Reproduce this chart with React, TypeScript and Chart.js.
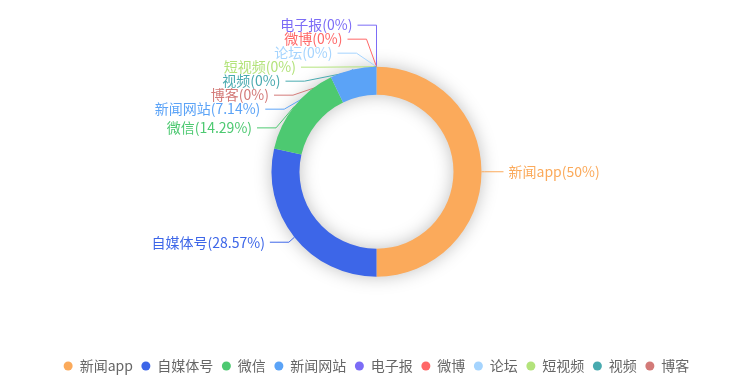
import React, { useEffect, useRef } from 'react';
import { Chart, registerables } from 'chart.js';

Chart.register(...registerables);

const categories = ['新闻app', '自媒体号', '微信', '新闻网站', '电子报', '微博', '论坛', '短视频', '视频', '博客'];
const counts = [7, 4, 2, 1, 0, 0, 0, 0, 0, 0];
const colors = ['#FBAA5B', '#3D66E8', '#4DC971', '#5BA3F7', '#7C6CF6', '#FF6767', '#A5D4FE', '#B3E37B', '#48AAAF', '#D37A78'];

const FONT = '"Noto Sans CJK SC", "Noto Sans", sans-serif';
const LINE_LEN1 = 8;
const LINE_LEN2 = 19;
const LABEL_DIST = 5;
const LABEL_H = 14;
const LABEL_FONT_SIZE = 14;
const OUTER_R = 105;
const INNER_R = 77;

type Item = {
  i: number; x: number; y: number; h: number; len: number; len2: number; dir: number;
  ax: number; ay: number; text: string;
};

function layoutSide(list: Item[], cx: number, cy: number, r: number, dir: number, viewTop: number, viewHeight: number) {
  list.sort((a, b) => a.y - b.y);
  const shiftUp = (end: number, delta: number) => {
    for (let j = end; j >= 0; j--) {
      if (list[j].y - delta < viewTop) break;
      list[j].y -= delta;
      if (j > 0 && list[j].y > list[j - 1].y + list[j - 1].h) break;
    }
  };
  const shiftDown = (start: number, end: number, delta: number) => {
    for (let j = start; j < end; j++) {
      if (list[j].y + delta > viewTop + viewHeight) break;
      list[j].y += delta;
      if (j > start && j + 1 < end && list[j + 1].y > list[j].y + list[j].h) {
        shiftUp(j, delta / 2);
        return;
      }
    }
    shiftUp(end - 1, delta / 2);
  };
  let lastY = 0;
  for (let i = 0; i < list.length; i++) {
    const d = list[i].y - lastY;
    if (d < 0) shiftDown(i, list.length, -d);
    lastY = list[i].y + list[i].h;
  }
  if (viewHeight - lastY < 0) shiftUp(list.length - 1, lastY - viewHeight);
  const up: Item[] = [];
  const down: Item[] = [];
  list.forEach((l) => (l.y >= cy ? down : up).push(l));
  const changeX = (items: Item[], isDown: boolean) => {
    let last = isDown ? Number.MAX_VALUE : 0;
    for (const it of items) {
      const dy = Math.abs(it.y - cy);
      const rr = r + it.len + it.len2;
      let dx = dy < r + it.len ? Math.sqrt(rr * rr - dy * dy) : Math.abs(it.x - cx);
      if (isDown && dx >= last) dx = last - 10;
      if (!isDown && dx <= last) dx = last + 10;
      it.x = cx + dx * dir;
      last = dx;
    }
  };
  changeX(up, false);
  changeX(down, true);
}

function computeLabels(chart: any): Item[] {
  const meta = chart.getDatasetMeta(0);
  const data = chart.data.datasets[0].data as number[];
  const total = data.reduce((a, b) => a + b, 0);
  const left: Item[] = [];
  const right: Item[] = [];
  let cx = 0, cy = 0, R = 0;
  meta.data.forEach((arc: any, i: number) => {
    const p = arc.getProps(['x', 'y', 'startAngle', 'endAngle', 'outerRadius'], true);
    cx = p.x; cy = p.y; R = p.outerRadius;
    const mid = (p.startAngle + p.endAngle) / 2;
    const dx = Math.cos(mid);
    const dy = Math.sin(mid);
    const x1 = p.x + R * dx;
    const y1 = p.y + R * dy;
    const x2 = x1 + LINE_LEN1 * dx;
    const y2 = y1 + LINE_LEN1 * dy;
    const dir = dx < 0 ? -1 : 1;
    const x3 = x2 + dir * LINE_LEN2;
    const pct = total ? +((data[i] / total) * 100).toFixed(2) : 0;
    const item: Item = {
      i, x: x3 + dir * LABEL_DIST, y: y2, h: LABEL_H, len: LINE_LEN1, len2: LINE_LEN2, dir,
      ax: x1, ay: y1, text: `${chart.data.labels[i]}(${pct}%)`,
    };
    (dir < 0 ? left : right).push(item);
  });
  layoutSide(left, cx, cy, R, -1, 0, chart.height);
  layoutSide(right, cx, cy, R, 1, 0, chart.height);
  return [...left, ...right];
}

const pieLabelPlugin = {
  id: 'pieLabels',
  beforeDatasetsDraw(chart: any) {
    const ctx = chart.ctx;
    const meta = chart.getDatasetMeta(0);
    const arc0 = meta.data[0];
    if (!arc0) return;
    const p = arc0.getProps(['x', 'y', 'outerRadius', 'innerRadius'], true);
    // ring shadow
    ctx.save();
    ctx.beginPath();
    ctx.arc(p.x, p.y, p.outerRadius - 0.5, 0, Math.PI * 2);
    ctx.arc(p.x, p.y, p.innerRadius + 0.5, Math.PI * 2, 0, true);
    ctx.closePath();
    ctx.shadowColor = 'rgba(0,0,0,0.26)';
    ctx.shadowBlur = 18;
    ctx.fillStyle = '#ddd';
    ctx.fill();
    ctx.restore();

    const items = computeLabels(chart);
    chart.$pieItems = items;
    ctx.save();
    ctx.lineWidth = 1;
    items.forEach((it) => {
      const endX = it.x - it.dir * LABEL_DIST;
      const turnX = endX - it.dir * it.len2;
      ctx.strokeStyle = colors[it.i];
      ctx.beginPath();
      ctx.moveTo(it.ax, it.ay);
      ctx.lineTo(turnX, it.y);
      ctx.lineTo(endX, it.y);
      ctx.stroke();
    });
    ctx.restore();
  },
  afterDatasetsDraw(chart: any) {
    const ctx = chart.ctx;
    const items: Item[] = chart.$pieItems || [];
    ctx.save();
    ctx.font = `${LABEL_FONT_SIZE}px ${FONT}`;
    ctx.textBaseline = 'middle';
    items.forEach((it) => {
      ctx.textAlign = it.dir < 0 ? 'right' : 'left';
      ctx.fillStyle = colors[it.i];
      ctx.fillText(it.text, it.x, it.y);
    });
    ctx.restore();
  },
};

export default function App() {
  const ref = useRef<HTMLCanvasElement | null>(null);
  useEffect(() => {
    if (!ref.current) return;
    const chart = new Chart(ref.current, {
      type: 'doughnut',
      data: {
        labels: categories,
        datasets: [
          {
            data: counts,
            backgroundColor: colors,
            borderWidth: 0,
            hoverOffset: 0,
          },
        ],
      },
      options: {
        responsive: false,
        animation: false,
        devicePixelRatio: 1,
        radius: OUTER_R,
        cutout: `${(INNER_R / OUTER_R) * 100}%`,
        layout: { padding: 0 },
        plugins: {
          tooltip: { enabled: false },
          legend: {
            position: 'bottom',
            labels: {
              usePointStyle: true,
              pointStyle: 'circle',
              pointStyleWidth: 9,
              boxHeight: 9 / Math.SQRT2,
              color: '#666',
              padding: 8.5,
              font: { size: 14, family: FONT },
            },
          },
        },
      } as any,
      plugins: [pieLabelPlugin],
    });
    return () => chart.destroy();
  }, []);
  return (
    <div style={{ position: 'fixed', left: 0, top: -7, width: 753, height: 390, background: '#fff' }}>
      <canvas ref={ref} width={753} height={390} style={{ display: 'block' }} />
    </div>
  );
}
